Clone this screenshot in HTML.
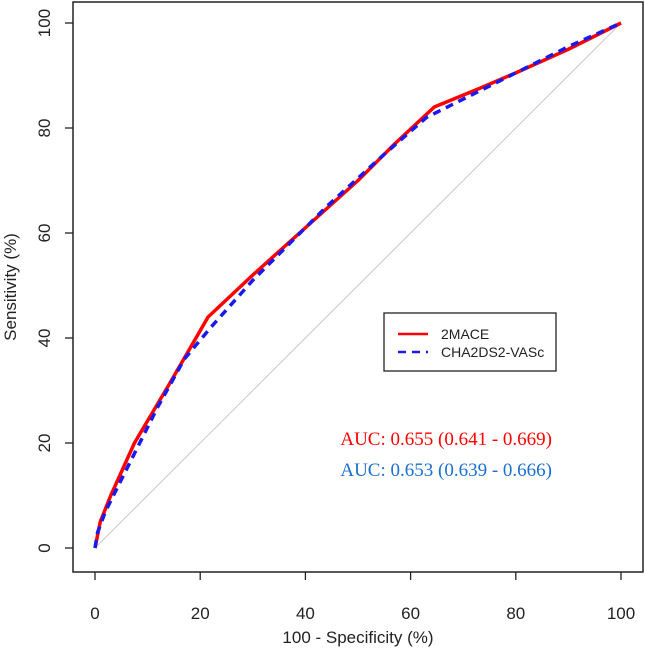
<!DOCTYPE html>
<html><head><meta charset="utf-8"><style>
body{margin:0;background:#fff;font-family:"Liberation Sans",sans-serif}
</style></head><body>
<svg width="645" height="648" id="chart" xmlns="http://www.w3.org/2000/svg"></svg>
<script>
const xTicks=[0,20,40,60,80,100];
const yTicks=[0,20,40,60,80,100];
const redFpr=[0,1,3,7.5,14,21.5,30,40,50,57,64.5,73,80,90,100];
const redTpr=[0,5,10,20,31,44,52,61,70,77,84,87.5,90.5,95,100];
const blueFpr=[0,0.5,2,4,7,12,17,22,30,44,55,63,75,90,100];
const blueTpr=[0,3,7,11,17,27,36,42,51,65,75,82,88,95.5,100];
const NS="http://www.w3.org/2000/svg";
const svg=document.getElementById('chart');
const X=v=>95+v*5.26, Y=v=>548-v*5.25;
function el(t,a,txt){const e=document.createElementNS(NS,t);for(const k in a)e.setAttribute(k,a[k]);if(txt!=null)e.textContent=txt;svg.appendChild(e);return e;}
const box=el('rect',{x:73,y:2,width:570,height:570,fill:'none',stroke:'#222','stroke-width':1.5});


const diag=el('line',{x1:X(0),y1:Y(0),x2:X(100),y2:Y(100),stroke:'#c8c8c8','stroke-width':1});


xTicks.forEach(v=>{
 const t=el('line',{x1:X(v),x2:X(v),y1:572,y2:580,stroke:'#222','stroke-width':1.3});
 
 
 const l=el('text',{x:X(v),y:619,'text-anchor':'middle','font-size':17,fill:'#222'},v);
 
 
});
yTicks.forEach(v=>{
 const t=el('line',{x1:65,x2:73,y1:Y(v),y2:Y(v),stroke:'#222','stroke-width':1.3});
 
 
 const l=el('text',{x:0,y:0,'text-anchor':'middle','font-size':17,fill:'#222',transform:`translate(50,${Y(v)}) rotate(-90)`},v);
 
 
});
const xt=el('text',{x:358,y:643,'text-anchor':'middle','font-size':17,fill:'#222'},'100 - Specificity (%)');


const yt=el('text',{x:0,y:0,'text-anchor':'middle','font-size':17,fill:'#222',transform:'translate(16,287) rotate(-90)'},'Sensitivity (%)');


const pr=el('polyline',{points:redFpr.map((v,i)=>X(v)+','+Y(redTpr[i])).join(' '),fill:'none',stroke:'#f00','stroke-width':3.5,'stroke-linejoin':'round'});


const pb=el('polyline',{points:blueFpr.map((v,i)=>X(v)+','+Y(blueTpr[i])).join(' '),fill:'none',stroke:'#1a1aee','stroke-width':3.5,'stroke-dasharray':'8 6'});


const lg=el('rect',{x:384,y:313,width:172,height:58,fill:'#fff',stroke:'#222','stroke-width':1.3});


const l1=el('line',{x1:398,x2:428,y1:334,y2:334,stroke:'#f00','stroke-width':2.5});


const t1=el('text',{x:441,y:339,'font-size':14,fill:'#222'},'2MACE');


const l2=el('line',{x1:398,x2:428,y1:352,y2:352,stroke:'#1a1aee','stroke-width':2.5,'stroke-dasharray':'8 6'});


const t2=el('text',{x:441,y:357,'font-size':14,fill:'#222'},'CHA2DS2-VASc');


const a1=el('text',{x:552,y:445,'text-anchor':'end','font-size':19,fill:'#f00','font-family':'Liberation Serif, serif'},'AUC: 0.655 (0.641 - 0.669)');


const a2=el('text',{x:552,y:476,'text-anchor':'end','font-size':19,fill:'#1a6fd0','font-family':'Liberation Serif, serif'},'AUC: 0.653 (0.639 - 0.666)');


</script>
</body></html>
